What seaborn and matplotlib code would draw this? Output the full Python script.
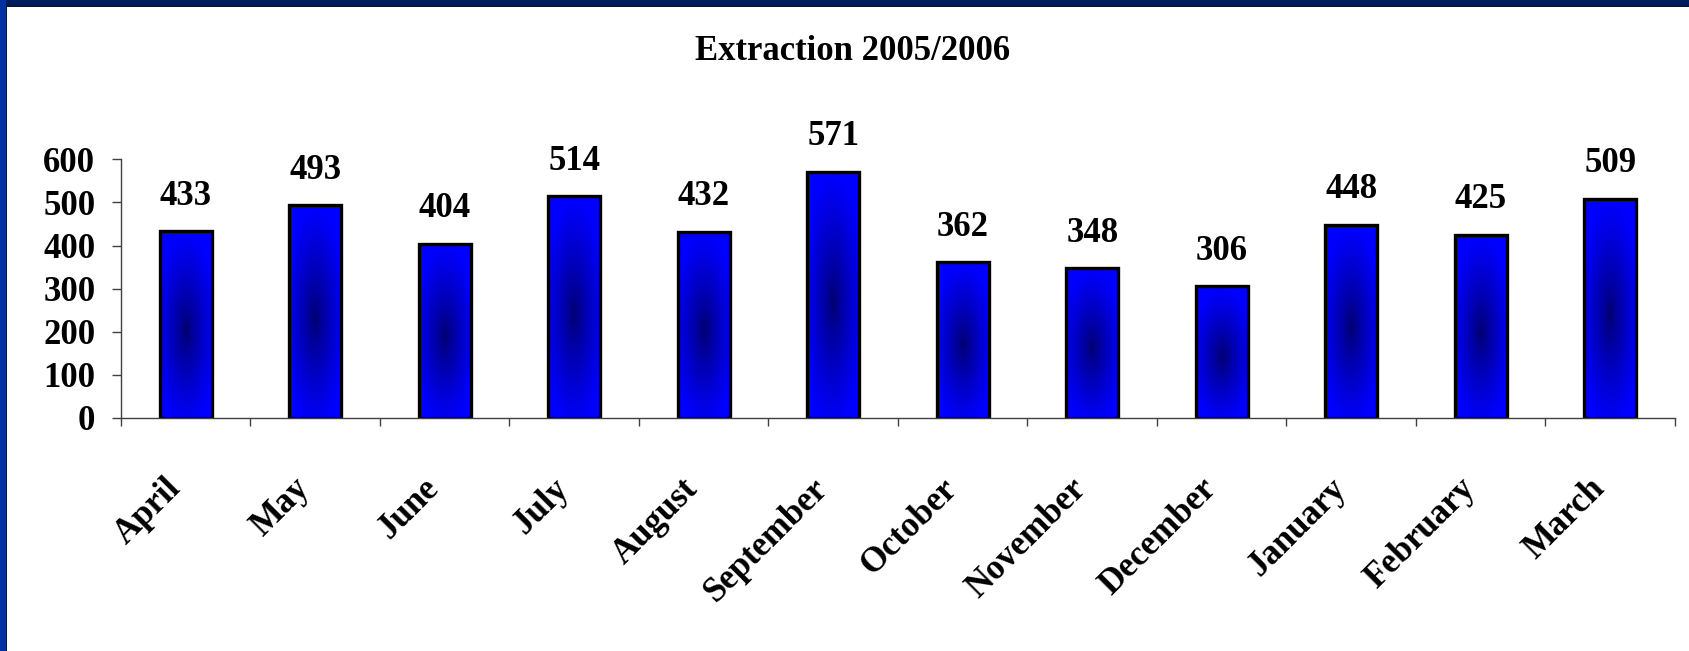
import numpy as np
import pandas as pd
import matplotlib.pyplot as plt
import matplotlib.transforms as mtransforms
import seaborn as sns
from matplotlib.patches import Rectangle
from matplotlib.colors import to_rgb

# --- dados ---
months = ['April', 'May', 'June', 'July', 'August', 'September',
          'October', 'November', 'December', 'January', 'February', 'March']
extraction = [433, 493, 404, 514, 432, 571, 362, 348, 306, 448, 425, 509]
y_ticks = [0, 100, 200, 300, 400, 500, 600]
title = 'Extraction 2005/2006'

sns.set_style('white')
plt.rcParams['font.family'] = ['Liberation Serif', 'DejaVu Serif']
plt.rcParams['font.weight'] = 'bold'
plt.rcParams['text.color'] = 'black'
plt.rcParams['xtick.labelcolor'] = 'black'
plt.rcParams['ytick.labelcolor'] = 'black'

df = pd.DataFrame({'month': months, 'extraction': extraction})

W, H = 1690, 651
fig = plt.figure(figsize=(W / 100, H / 100), dpi=100)
fig.patch.set_facecolor('white')

# moldura azul (topo e esquerda)
fig.patches.append(Rectangle((0, 1 - 6 / H), 1, 6 / H, transform=fig.transFigure,
                             facecolor='#001a5e', edgecolor='none', zorder=0))
fig.patches.append(Rectangle((0, 1 - 7 / H), 1, 1.5 / H, transform=fig.transFigure,
                             facecolor='#0b1630', edgecolor='none', zorder=0))
fig.patches.append(Rectangle((0, 0), 6 / W, 1, transform=fig.transFigure,
                             facecolor='#003399', edgecolor='none', zorder=0))
fig.patches.append(Rectangle((6 / W, 0), 1.5 / W, 1 - 6 / H, transform=fig.transFigure,
                             facecolor='#0b1630', edgecolor='none', zorder=0))

ax = fig.add_axes([121 / W, 1 - 418 / H, (1675 - 121) / W, (418 - 159.3) / H])
sns.barplot(data=df, x='month', y='extraction', order=months, color='#0000ff',
            saturation=1, width=0.4, edgecolor='black', linewidth=2.4, ax=ax)

ax.set_xlim(-0.5, len(months) - 0.5)
ax.set_ylim(0, 600)

# gradiente radial (centro escuro) dentro de cada barra
ny, nx = 240, 80
yy, xx = np.mgrid[0:1:ny * 1j, 0:1:nx * 1j]
r = np.sqrt(((xx - 0.5) / 0.6) ** 2 + ((yy - 0.47) / 0.52) ** 2)
t = np.clip(r, 0, 1) ** 0.75
navy = np.array(to_rgb('#00006a'))
blue = np.array(to_rgb('#0000ff'))
grad = navy * (1 - t)[..., None] + blue * t[..., None]

for patch in ax.patches:
    bb = patch.get_bbox()
    im = ax.imshow(grad, extent=[bb.x0, bb.x1, bb.y0, bb.y1], origin='lower',
                   aspect='auto', zorder=patch.get_zorder() - 0.1, interpolation='bilinear')
    im.set_clip_path(patch)
    patch.set_facecolor('none')

ax.set_xlim(-0.5, len(months) - 0.5)
ax.set_ylim(0, 600)

# rótulos de valor
for patch, v in zip(ax.patches, extraction):
    ax.annotate(f'{v}', (patch.get_x() + patch.get_width() / 2, v), xytext=(0, 19),
                textcoords='offset points', ha='center', va='baseline',
                fontsize=25, fontweight='bold', color='black')

ax.set_xlabel('')
ax.set_ylabel('')
ax.set_yticks(y_ticks)
ax.tick_params(axis='y', direction='out', length=6.5, width=1, color='#404040',
               pad=12, labelsize=25, left=True, labelcolor='black')
ax.set_xticks(range(len(months)))
ax.set_xticklabels(months, rotation=45, ha='right', va='top', rotation_mode='anchor')
ax.tick_params(axis='x', which='major', length=0, pad=39, labelsize=25, labelcolor='black')
ax.set_xticks(np.arange(-0.5, len(months), 1), minor=True)
ax.tick_params(axis='x', which='minor', direction='out', length=6, width=1,
               color='#404040', bottom=True)

shift = mtransforms.ScaledTranslation(-22 / 100, 0, fig.dpi_scale_trans)
for lab in ax.get_xticklabels():
    lab.set_transform(lab.get_transform() + shift)

for s in ['top', 'right']:
    ax.spines[s].set_visible(False)
for s in ['left', 'bottom']:
    ax.spines[s].set_color('#404040')
    ax.spines[s].set_linewidth(1)

fig.text(853 / W, 1 - 60 / H, title, ha='center', va='baseline',
         fontsize=25, fontweight='bold', color='black')

fig.savefig('out.png', dpi=100)
